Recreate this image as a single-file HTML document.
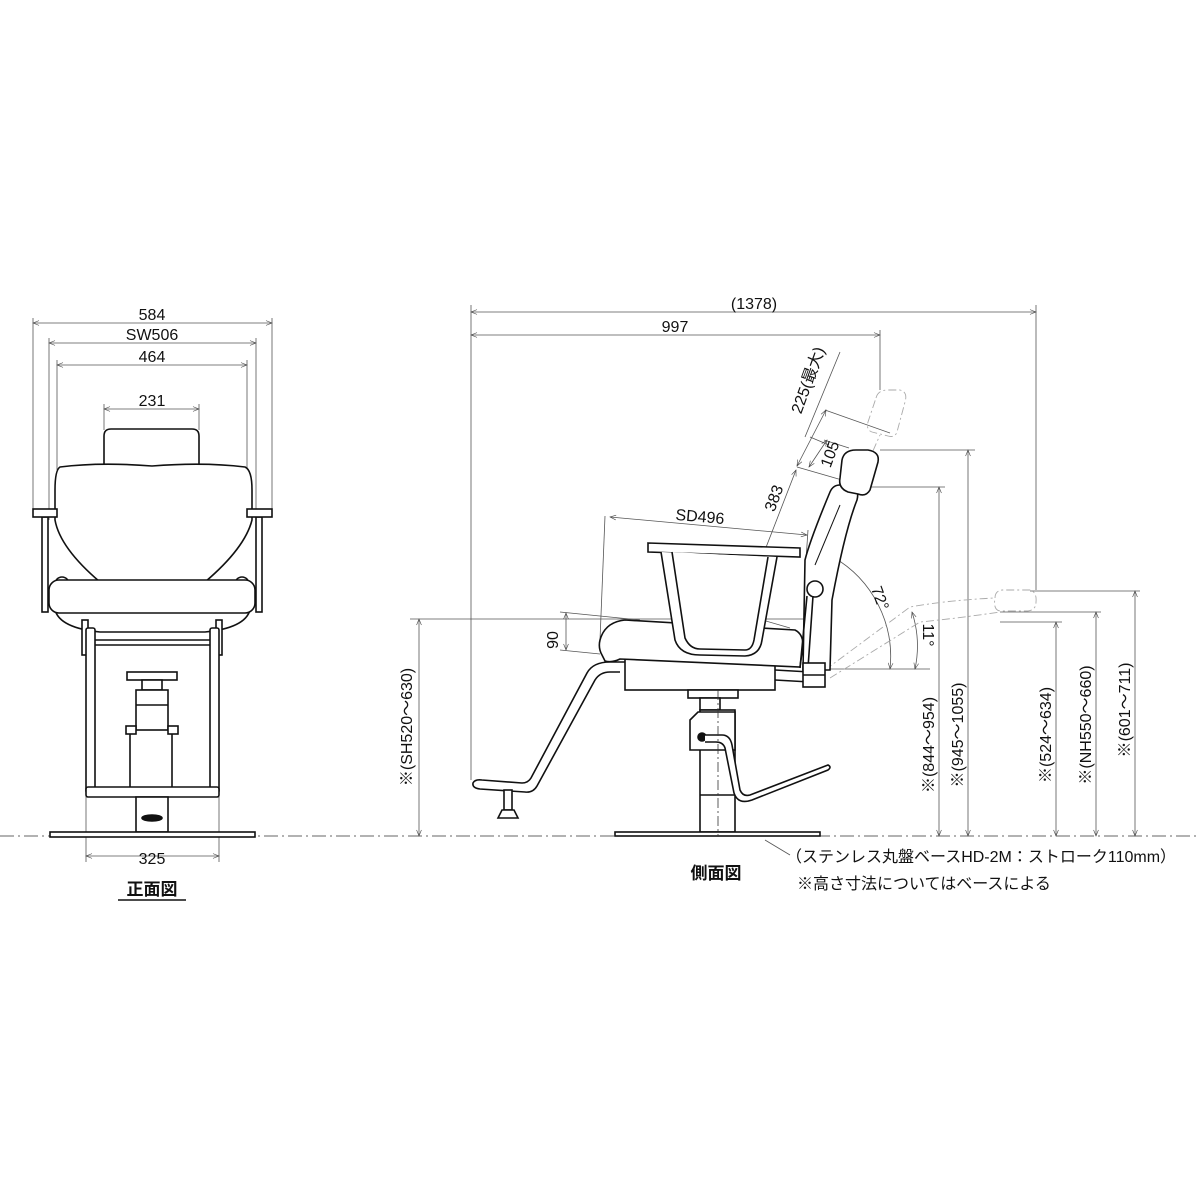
<!DOCTYPE html>
<html><head><meta charset="utf-8"><style>
html,body{margin:0;padding:0;background:#fff;width:1200px;height:1200px;overflow:hidden}
svg{display:block}
text{font-family:"Liberation Sans","Noto Sans CJK JP",sans-serif;fill:#111}
</style></head><body>
<svg width="1200" height="1200" viewBox="0 0 1200 1200" xmlns="http://www.w3.org/2000/svg">
<defs>
<marker id="a" viewBox="0 0 10 10" refX="10" refY="5" markerWidth="10" markerHeight="6" orient="auto-start-reverse" markerUnits="userSpaceOnUse"><path d="M0,1 L10,5 L0,9" fill="none" stroke="#444" stroke-width="1"/></marker>
</defs>
<line x1="0" y1="836" x2="1200" y2="836" stroke="#666" stroke-width="1" stroke-dasharray="14,4,2,4"/>

<g stroke="#555" stroke-width="0.8" fill="none">
<line x1="33" y1="323" x2="272" y2="323" marker-start="url(#a)" marker-end="url(#a)"/>
<line x1="49" y1="343" x2="256" y2="343" marker-start="url(#a)" marker-end="url(#a)"/>
<line x1="57" y1="365" x2="247" y2="365" marker-start="url(#a)" marker-end="url(#a)"/>
<line x1="104" y1="409" x2="199" y2="409" marker-start="url(#a)" marker-end="url(#a)"/>
<line x1="33" y1="318" x2="33" y2="509"/><line x1="272" y1="318" x2="272" y2="509"/>
<line x1="49" y1="338" x2="49" y2="520"/><line x1="256" y1="338" x2="256" y2="520"/>
<line x1="57" y1="360" x2="57" y2="470"/><line x1="247" y1="360" x2="247" y2="470"/>
<line x1="104" y1="404" x2="104" y2="430"/><line x1="199" y1="404" x2="199" y2="430"/>
<line x1="86" y1="790" x2="86" y2="862"/><line x1="219" y1="790" x2="219" y2="862"/>
<line x1="86" y1="856" x2="219" y2="856" marker-start="url(#a)" marker-end="url(#a)"/>
</g>
<g font-size="16" text-anchor="middle">
<text x="152" y="320">584</text><text x="152" y="340">SW506</text><text x="152" y="362">464</text><text x="152" y="406">231</text><text x="152" y="864">325</text>
</g>
<text x="152" y="895" font-size="17" font-weight="bold" text-anchor="middle">正面図</text>
<line x1="118" y1="900" x2="186" y2="900" stroke="#111" stroke-width="1.5"/>

<g stroke="#111" stroke-width="1.6" fill="#fff">
<path d="M104,466 V436 Q104,429 111,429 H192 Q199,429 199,436 V466"/>
<rect x="42" y="517" width="6" height="95"/><rect x="256" y="517" width="6" height="95"/>
<path d="M60,467 Q100,462 152,466 Q204,462 245,467 Q252,470 252,490 V520 Q245,548 205,582 L100,582 Q60,548 55,520 V490 Q55,470 60,467 Z"/>
<rect x="33" y="509" width="24" height="8"/><rect x="247" y="509" width="25" height="8"/>
<circle cx="62" cy="584" r="7"/><circle cx="242" cy="584" r="7"/>
<path d="M55,610 Q60,628 100,632 H205 Q245,628 250,610"/>
<rect x="49" y="580" width="206" height="33" rx="10"/>
<rect x="82" y="620" width="6" height="35"/><rect x="216" y="620" width="6" height="35"/>
<rect x="86" y="628" width="9" height="165" rx="2"/><rect x="210" y="628" width="9" height="165" rx="2"/>
<line x1="95" y1="640" x2="210" y2="640"/><line x1="95" y1="645" x2="210" y2="645"/>
<rect x="127" y="672" width="50" height="8"/><rect x="142" y="680" width="20" height="10"/>
<rect x="136" y="690" width="32" height="40"/><line x1="136" y1="705" x2="168" y2="705"/>
<rect x="126" y="726" width="10" height="8"/><rect x="168" y="726" width="10" height="8"/>
<line x1="130" y1="734" x2="130" y2="790"/><line x1="172" y1="734" x2="172" y2="790"/>
<rect x="86" y="787" width="133" height="10" rx="2"/>
<rect x="136" y="797" width="32" height="35"/>
<ellipse cx="152" cy="818" rx="10" ry="3" fill="#111"/>
<rect x="50" y="832" width="205" height="5"/>
</g>

<g stroke="#555" stroke-width="0.8" fill="none">
<line x1="471" y1="312" x2="1036" y2="312" marker-start="url(#a)" marker-end="url(#a)"/>
<line x1="471" y1="335" x2="880" y2="335" marker-start="url(#a)" marker-end="url(#a)"/>
<line x1="471" y1="305" x2="471" y2="780"/>
<line x1="1036" y1="305" x2="1036" y2="590"/>
<line x1="880" y1="330" x2="880" y2="390"/>
<line x1="610" y1="517" x2="807" y2="535" marker-start="url(#a)" marker-end="url(#a)"/>
<line x1="605" y1="516" x2="600" y2="640"/><line x1="808" y1="530" x2="806" y2="560"/>
<line x1="741" y1="612" x2="796" y2="470" marker-start="url(#a)" marker-end="url(#a)"/>
<line x1="735" y1="612" x2="790" y2="628"/>
<line x1="797" y1="467" x2="842" y2="480"/>
<line x1="797" y1="466" x2="826" y2="410" marker-start="url(#a)" marker-end="url(#a)"/>
<line x1="809" y1="467" x2="827" y2="440" marker-start="url(#a)" marker-end="url(#a)"/>
<line x1="824" y1="440" x2="849" y2="448"/>
<line x1="825" y1="410" x2="890" y2="433"/>
<line x1="805" y1="437" x2="840" y2="352"/>
<line x1="810" y1="437" x2="829" y2="445"/>
<line x1="410" y1="619" x2="810" y2="619"/>
<line x1="419" y1="619" x2="419" y2="836" marker-start="url(#a)" marker-end="url(#a)"/>
<line x1="560" y1="612" x2="640" y2="620"/><line x1="560" y1="650" x2="600" y2="654"/>
<line x1="566" y1="613" x2="566" y2="650" marker-start="url(#a)" marker-end="url(#a)"/>
<line x1="855" y1="487" x2="945" y2="487"/>
<line x1="939" y1="487" x2="939" y2="836" marker-start="url(#a)" marker-end="url(#a)"/>
<line x1="880" y1="450" x2="975" y2="450"/>
<line x1="968" y1="450" x2="968" y2="836" marker-start="url(#a)" marker-end="url(#a)"/>
<line x1="1000" y1="622" x2="1062" y2="622"/>
<line x1="1056" y1="622" x2="1056" y2="836" marker-start="url(#a)" marker-end="url(#a)"/>
<line x1="1000" y1="612" x2="1101" y2="612"/>
<line x1="1096" y1="612" x2="1096" y2="836" marker-start="url(#a)" marker-end="url(#a)"/>
<line x1="1030" y1="591" x2="1140" y2="591"/>
<line x1="1135" y1="591" x2="1135" y2="836" marker-start="url(#a)" marker-end="url(#a)"/>
<line x1="820" y1="669" x2="930" y2="669"/>
<path d="M833,557 A115,115 0 0 1 890,669" marker-start="url(#a)" marker-end="url(#a)"/>
<path d="M912,612 A110,110 0 0 1 915,669" marker-start="url(#a)" marker-end="url(#a)"/>
<line x1="765" y1="840" x2="790" y2="855"/>
</g>
<g stroke="#aaa" stroke-width="0.9" fill="none" stroke-dasharray="8,3,2,3">
<path d="M876,398 Q878,390 888,390 H900 Q908,392 905,402 L897,432 Q895,438 888,436 L872,432 Q866,430 868,422 Z"/>
<line x1="860" y1="480" x2="880" y2="435"/>
<path d="M825,670 L910,607 Q950,600 995,598"/>
<path d="M830,678 L920,622 Q960,618 1000,612"/>
<path d="M995,598 Q995,591 1002,590 H1030 Q1037,592 1036,602 Q1036,610 1028,611 H1000 Q993,610 995,598 Z"/>
</g>
<g font-size="16" text-anchor="middle">
<text x="754" y="309">(1378)</text><text x="675" y="332">997</text>
<text x="700" y="522" transform="rotate(5 700 516)">SD496</text>
<text transform="translate(779,500) rotate(-70)">383</text>
<text transform="translate(835,456) rotate(-70)">105</text>
<text transform="translate(813,382) rotate(-70)">225(最大)</text>
<text transform="translate(558,640) rotate(-90)">90</text>
<text transform="translate(875,600) rotate(70)">72°</text>
<text transform="translate(923,635) rotate(90)">11°</text>
<text transform="translate(412,727) rotate(-90)">※(SH520～630)</text>
<text transform="translate(934,745) rotate(-90)">※(844～954)</text>
<text transform="translate(963,735) rotate(-90)">※(945～1055)</text>
<text transform="translate(1051,735) rotate(-90)">※(524～634)</text>
<text transform="translate(1091,725) rotate(-90)">※(NH550～660)</text>
<text transform="translate(1130,710) rotate(-90)">※(601～711)</text>
</g>
<text x="716" y="879" font-size="17" font-weight="bold" text-anchor="middle">側面図</text>
<text x="786" y="862" font-size="16">（ステンレス丸盤ベースHD-2M：ストローク110mm）</text>
<text x="797" y="889" font-size="16">※高さ寸法についてはベースによる</text>

<g stroke="#111" stroke-width="1.6" fill="#fff">
<path d="M620,672 H610 Q600,672 595,680 L537,786 Q533,793 525,792 L480,789 Q472,788 473,783 Q475,779 482,780 L522,783 Q528,783 531,778 L587,673 Q593,662 610,662 H625"/>
<rect x="504" y="790" width="8" height="20"/><path d="M498,818 L502,810 H514 L518,818 Z"/>
<rect x="625" y="657" width="150" height="33"/>
<line x1="775" y1="670" x2="810" y2="672"/><line x1="775" y1="680" x2="810" y2="682"/>
<path d="M602,655 Q598,648 600,640 Q605,622 625,620 L795,630 Q803,634 803,645 L800,667 L620,659 Q612,663 605,661 Z"/>
<path d="M648,543 L800,548 L800,557 L648,552 Z"/>
<path d="M661,552 L675,640 Q680,655 700,655 L745,656 Q760,655 762,640 L777,557"/>
<path d="M672,552 L685,638 Q690,649 700,649 L745,650 Q752,650 754,640 L768,557"/>
<path d="M803,670 L805,560 Q810,540 830,492 Q833,485 840,485 H850 Q860,488 857,500 Q845,530 832,600 L830,670 Z"/>
<line x1="815" y1="565" x2="840" y2="505" stroke-width="1"/>
<circle cx="815" cy="589" r="8"/>
<path d="M807,596 L800,668 M813,596 L808,668"/>
<rect x="803" y="663" width="22" height="24"/><line x1="803" y1="675" x2="825" y2="675"/>
<path d="M842,460 Q844,450 856,450 H868 Q880,452 878,462 L870,490 Q866,497 858,494 L848,492 Q838,488 840,478 Z"/>
<rect x="688" y="690" width="50" height="8"/>
<rect x="700" y="698" width="20" height="12"/>
<rect x="700" y="710" width="35" height="122"/>
<path d="M690,720 L698,712 H735 V750 H690 Z"/>
<line x1="700" y1="795" x2="735" y2="795"/>
<circle cx="702" cy="737" r="4" fill="#111"/>
<path d="M705,735 H722 Q730,735 732,745 L740,790 Q743,797 750,795 L828,765 Q832,767 828,770 L752,800 Q738,805 734,793 L725,748 Q723,742 716,742 H705"/>
<rect x="615" y="832" width="205" height="4"/>
</g>
<line x1="718" y1="690" x2="718" y2="836" stroke="#333" stroke-width="0.8" stroke-dasharray="10,3,2,3"/>
</svg>
</body></html>
